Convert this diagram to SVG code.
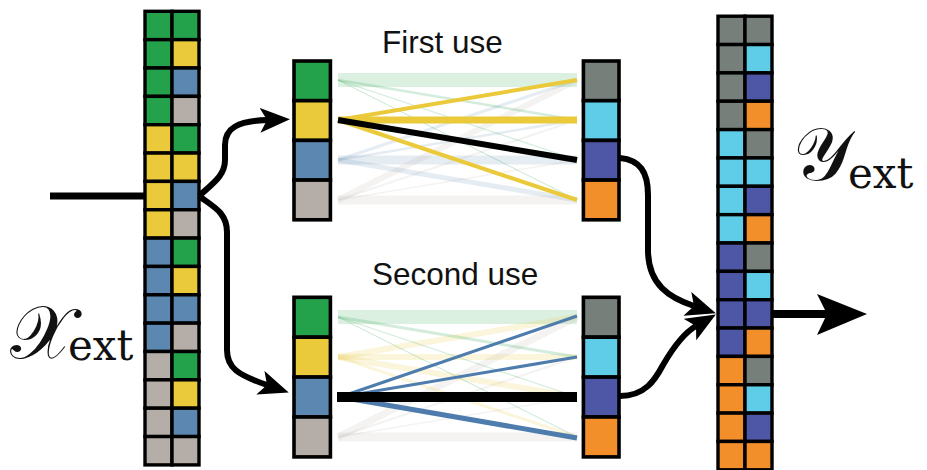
<svg xmlns="http://www.w3.org/2000/svg" width="927" height="470" viewBox="0 0 927 470">
<style>
.c{stroke:#000;stroke-width:3.4}
.cb{stroke:#000;stroke-width:3.6}
.g{fill:#24a14b}.y{fill:#eaca3b}.b{fill:#5b87b1}.r{fill:#b5ada7}
.k{fill:#777f7b}.cy{fill:#5fcde8}.p{fill:#4e56a6}.o{fill:#f28f2b}
.w{fill:none;stroke-linecap:butt}
.lab{font-family:"Liberation Sans",Arial,sans-serif;font-size:31.5px;fill:#111}
.m{font-family:"DejaVu Serif","Liberation Serif",serif;fill:#111}
.arr{fill:none;stroke:#000;stroke-width:6;stroke-linejoin:round}
</style>
<defs>
<marker id="ah" markerUnits="userSpaceOnUse" viewBox="0 0 30 25" markerWidth="30" markerHeight="25" refX="7" refY="12.5" orient="auto">
<path d="M0,0 L30,12.5 L0,25 L7,12.5 Z" fill="#000"/>
</marker>
</defs>

<g id="input-column">
<rect class="c g" x="145" y="11.3" width="27" height="28.35"/><rect class="c g" x="172" y="11.3" width="27" height="28.35"/>
<rect class="c g" x="145" y="39.65" width="27" height="28.35"/><rect class="c y" x="172" y="39.65" width="27" height="28.35"/>
<rect class="c g" x="145" y="68" width="27" height="28.35"/><rect class="c b" x="172" y="68" width="27" height="28.35"/>
<rect class="c g" x="145" y="96.35" width="27" height="28.35"/><rect class="c r" x="172" y="96.35" width="27" height="28.35"/>
<rect class="c y" x="145" y="124.7" width="27" height="28.35"/><rect class="c g" x="172" y="124.7" width="27" height="28.35"/>
<rect class="c y" x="145" y="153.05" width="27" height="28.35"/><rect class="c y" x="172" y="153.05" width="27" height="28.35"/>
<rect class="c y" x="145" y="181.4" width="27" height="28.35"/><rect class="c b" x="172" y="181.4" width="27" height="28.35"/>
<rect class="c y" x="145" y="209.75" width="27" height="28.35"/><rect class="c r" x="172" y="209.75" width="27" height="28.35"/>
<rect class="c b" x="145" y="238.1" width="27" height="28.35"/><rect class="c g" x="172" y="238.1" width="27" height="28.35"/>
<rect class="c b" x="145" y="266.45" width="27" height="28.35"/><rect class="c y" x="172" y="266.45" width="27" height="28.35"/>
<rect class="c b" x="145" y="294.8" width="27" height="28.35"/><rect class="c b" x="172" y="294.8" width="27" height="28.35"/>
<rect class="c b" x="145" y="323.15" width="27" height="28.35"/><rect class="c r" x="172" y="323.15" width="27" height="28.35"/>
<rect class="c r" x="145" y="351.5" width="27" height="28.35"/><rect class="c g" x="172" y="351.5" width="27" height="28.35"/>
<rect class="c r" x="145" y="379.85" width="27" height="28.35"/><rect class="c y" x="172" y="379.85" width="27" height="28.35"/>
<rect class="c r" x="145" y="408.2" width="27" height="28.35"/><rect class="c b" x="172" y="408.2" width="27" height="28.35"/>
<rect class="c r" x="145" y="436.55" width="27" height="28.35"/><rect class="c r" x="172" y="436.55" width="27" height="28.35"/>
</g>

<g id="output-column">
<rect class="c k" x="718" y="16.2" width="27" height="28.35"/><rect class="c k" x="745" y="16.2" width="27" height="28.35"/>
<rect class="c k" x="718" y="44.55" width="27" height="28.35"/><rect class="c cy" x="745" y="44.55" width="27" height="28.35"/>
<rect class="c k" x="718" y="72.9" width="27" height="28.35"/><rect class="c p" x="745" y="72.9" width="27" height="28.35"/>
<rect class="c k" x="718" y="101.25" width="27" height="28.35"/><rect class="c o" x="745" y="101.25" width="27" height="28.35"/>
<rect class="c cy" x="718" y="129.6" width="27" height="28.35"/><rect class="c k" x="745" y="129.6" width="27" height="28.35"/>
<rect class="c cy" x="718" y="157.95" width="27" height="28.35"/><rect class="c cy" x="745" y="157.95" width="27" height="28.35"/>
<rect class="c cy" x="718" y="186.3" width="27" height="28.35"/><rect class="c p" x="745" y="186.3" width="27" height="28.35"/>
<rect class="c cy" x="718" y="214.65" width="27" height="28.35"/><rect class="c o" x="745" y="214.65" width="27" height="28.35"/>
<rect class="c p" x="718" y="243" width="27" height="28.35"/><rect class="c k" x="745" y="243" width="27" height="28.35"/>
<rect class="c p" x="718" y="271.35" width="27" height="28.35"/><rect class="c cy" x="745" y="271.35" width="27" height="28.35"/>
<rect class="c p" x="718" y="299.7" width="27" height="28.35"/><rect class="c p" x="745" y="299.7" width="27" height="28.35"/>
<rect class="c p" x="718" y="328.05" width="27" height="28.35"/><rect class="c o" x="745" y="328.05" width="27" height="28.35"/>
<rect class="c o" x="718" y="356.4" width="27" height="28.35"/><rect class="c k" x="745" y="356.4" width="27" height="28.35"/>
<rect class="c o" x="718" y="384.75" width="27" height="28.35"/><rect class="c cy" x="745" y="384.75" width="27" height="28.35"/>
<rect class="c o" x="718" y="413.1" width="27" height="28.35"/><rect class="c p" x="745" y="413.1" width="27" height="28.35"/>
<rect class="c o" x="718" y="441.45" width="27" height="28.35"/><rect class="c o" x="745" y="441.45" width="27" height="28.35"/>
</g>

<g id="connectors">
<g id="weights-first" class="w">
<line x1="338" y1="80" x2="577" y2="80" stroke="#24a14b" stroke-opacity="0.16" stroke-width="14"/>
<line x1="338" y1="200" x2="577" y2="200" stroke="#b5ada7" stroke-opacity="0.15" stroke-width="9"/>
<line x1="338" y1="160" x2="577" y2="160" stroke="#5b87b1" stroke-opacity="0.16" stroke-width="9"/>
<line x1="338" y1="200" x2="577" y2="80" stroke="#b5ada7" stroke-opacity="0.15" stroke-width="6"/>
<line x1="338" y1="200" x2="577" y2="120" stroke="#b5ada7" stroke-opacity="0.15" stroke-width="2"/>
<line x1="338" y1="200" x2="577" y2="160" stroke="#b5ada7" stroke-opacity="0.15" stroke-width="1.5"/>
<line x1="338" y1="160" x2="577" y2="80" stroke="#5b87b1" stroke-opacity="0.16" stroke-width="3"/>
<line x1="338" y1="160" x2="577" y2="120" stroke="#5b87b1" stroke-opacity="0.16" stroke-width="2.5"/>
<line x1="338" y1="160" x2="577" y2="200" stroke="#5b87b1" stroke-opacity="0.16" stroke-width="5"/>
<line x1="338" y1="80" x2="577" y2="120" stroke="#24a14b" stroke-opacity="0.2" stroke-width="2.5"/>
<line x1="338" y1="80" x2="577" y2="160" stroke="#24a14b" stroke-opacity="0.2" stroke-width="1.2"/>
<line x1="338" y1="80" x2="577" y2="200" stroke="#24a14b" stroke-opacity="0.25" stroke-width="1"/>
<line x1="338" y1="120" x2="577" y2="80" stroke="#eaca3b" stroke-width="4"/>
<line x1="338" y1="120" x2="577" y2="120" stroke="#eaca3b" stroke-width="7"/>
<line x1="338" y1="120" x2="577" y2="200" stroke="#eaca3b" stroke-width="4"/>
<line x1="338" y1="120" x2="577" y2="160" stroke="#000" stroke-width="6"/>
</g>
<g id="weights-second" class="w">
<line x1="338" y1="317" x2="577" y2="317" stroke="#24a14b" stroke-opacity="0.16" stroke-width="14"/>
<line x1="338" y1="437" x2="577" y2="437" stroke="#b5ada7" stroke-opacity="0.15" stroke-width="9"/>
<line x1="338" y1="357" x2="577" y2="357" stroke="#eaca3b" stroke-opacity="0.18" stroke-width="6"/>
<line x1="338" y1="437" x2="577" y2="317" stroke="#b5ada7" stroke-opacity="0.15" stroke-width="7"/>
<line x1="338" y1="437" x2="577" y2="357" stroke="#b5ada7" stroke-opacity="0.15" stroke-width="2"/>
<line x1="338" y1="437" x2="577" y2="397" stroke="#b5ada7" stroke-opacity="0.15" stroke-width="1.5"/>
<line x1="338" y1="357" x2="577" y2="317" stroke="#eaca3b" stroke-opacity="0.18" stroke-width="6"/>
<line x1="338" y1="357" x2="577" y2="397" stroke="#eaca3b" stroke-opacity="0.18" stroke-width="6"/>
<line x1="338" y1="357" x2="577" y2="437" stroke="#eaca3b" stroke-opacity="0.18" stroke-width="3"/>
<line x1="338" y1="317" x2="577" y2="357" stroke="#24a14b" stroke-opacity="0.2" stroke-width="3"/>
<line x1="338" y1="317" x2="577" y2="397" stroke="#24a14b" stroke-opacity="0.2" stroke-width="1.2"/>
<line x1="338" y1="317" x2="577" y2="437" stroke="#24a14b" stroke-opacity="0.25" stroke-width="1"/>
<line x1="340" y1="397" x2="577" y2="316" stroke="#4e7cad" stroke-width="3"/>
<line x1="340" y1="397" x2="577" y2="357" stroke="#4e7cad" stroke-width="3"/>
<line x1="340" y1="397" x2="577" y2="438" stroke="#4e7cad" stroke-width="5"/>
<line x1="337" y1="397" x2="577" y2="397" stroke="#000" stroke-width="10"/>
</g>
<line x1="50" y1="196" x2="145" y2="196" stroke="#000" stroke-width="7"/>
<path class="arr" d="M199,196 C212,184 225,176 225,160 L225,145 C225,128 238,121 267,120" marker-end="url(#ah)"/>
<path class="arr" d="M199,196 C212,206 227,212 227,232 L227,350 C227,368 238,375 267,385" marker-end="url(#ah)"/>
<path class="arr" d="M620,158 C640,160 648,172 648,195 L648,250 C648,285 670,298 694,306" marker-end="url(#ah)"/>
<path class="arr" d="M620,396 C645,396 655,380 663,365 C674,346 684,333 696,326" marker-end="url(#ah)"/>
<line x1="772" y1="314" x2="830" y2="314" stroke="#000" stroke-width="8"/>
<polygon points="867,314 817,294 827,314 817,335" fill="#000"/>
</g>

<g id="first-use-in">
<rect class="cb g" x="294" y="61" width="36.4" height="39.7"/>
<rect class="cb y" x="294" y="100.7" width="36.4" height="39.7"/>
<rect class="cb b" x="294" y="140.4" width="36.4" height="39.7"/>
<rect class="cb r" x="294" y="180.1" width="36.4" height="39.7"/>
</g>
<g id="first-use-out">
<rect class="cb k" x="583.4" y="61" width="35.6" height="39.7"/>
<rect class="cb cy" x="583.4" y="100.7" width="35.6" height="39.7"/>
<rect class="cb p" x="583.4" y="140.4" width="35.6" height="39.7"/>
<rect class="cb o" x="583.4" y="180.1" width="35.6" height="39.7"/>
</g>
<g id="second-use-in">
<rect class="cb g" x="294" y="297.3" width="36.4" height="39.9"/>
<rect class="cb y" x="294" y="337.2" width="36.4" height="39.9"/>
<rect class="cb b" x="294" y="377.1" width="36.4" height="39.9"/>
<rect class="cb r" x="294" y="417" width="36.4" height="39.9"/>
</g>
<g id="second-use-out">
<rect class="cb k" x="583.4" y="297.3" width="35.6" height="39.9"/>
<rect class="cb cy" x="583.4" y="337.2" width="35.6" height="39.9"/>
<rect class="cb p" x="583.4" y="377.1" width="35.6" height="39.9"/>
<rect class="cb o" x="583.4" y="417" width="35.6" height="39.9"/>
</g>

<g id="labels">
<text class="lab" x="382" y="53">First use</text>
<text class="lab" x="372" y="285">Second use</text>
<text class="m" x="10" y="358" font-size="74">𝒳</text>
<text class="m" x="68" y="360" font-size="42">ext</text>
<text class="m" x="793" y="180" font-size="74">𝒴</text>
<text class="m" x="848" y="188" font-size="42">ext</text>
</g>
</svg>
